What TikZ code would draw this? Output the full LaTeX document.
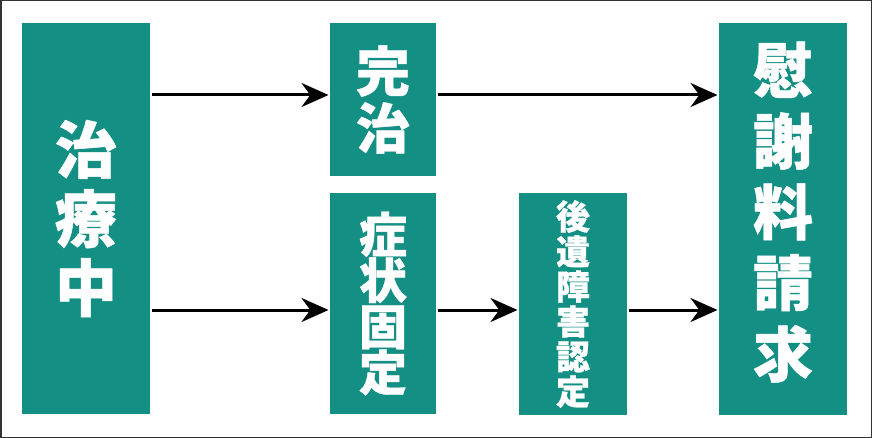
\documentclass[tikz,border=0pt]{standalone}
\usepackage{fontspec}
\newfontfamily\jpfont[BoldFeatures={FakeBold=0.8}]{Noto Sans CJK JP}
\usepackage{tikz}
\usetikzlibrary{arrows.meta, positioning, calc}
\setlength{\lineskiplimit}{-50pt}
\definecolor{stageteal}{RGB}{20,143,131}
\tikzset{>={Stealth[length=27pt,width=24pt]}}
\tikzset{stage/.style={fill=stageteal, text=white, align=center, inner sep=0pt}}

\begin{document}
\begin{tikzpicture}[>={Stealth[length=27pt,width=24pt]}, x=1pt, y=-1pt, line width=3pt]

			\useasboundingbox (0,0) rectangle (872,438);
			\draw[line width=1.5pt, black!80] (0.75,0.75) rectangle (871.25,437.25);

			\node[stage, minimum width=128pt, minimum height=391pt, font=\jpfont\bfseries\fontsize{62}{69}\selectfont] (chiryo) at (86,218.5) {治\\療\\中};
			\node[stage, minimum width=106pt, minimum height=153pt, font=\jpfont\bfseries\fontsize{54}{57}\selectfont] (kanchi) at (383,99.5) {完\\治};
			\node[stage, minimum width=106pt, minimum height=221pt, font=\jpfont\bfseries\fontsize{48}{46}\selectfont] (shojo) at (383,303.5) {症\\状\\固\\定};
			\node[stage, minimum width=108pt, minimum height=222pt, font=\jpfont\bfseries\fontsize{34}{35}\selectfont] (kouisho) at (573,304) {後\\遺\\障\\害\\認\\定};
			\node[stage, minimum width=128pt, minimum height=392pt, font=\jpfont\bfseries\fontsize{60}{65}\selectfont] (isharyo) at (783,219) {\raisebox{14pt}{\begin{tabular}{@{}c@{}}慰\\謝\\料\\請\\求\end{tabular}}};

			\draw [->] ($(chiryo.east |- kanchi.west)+(0,-4.5)$)--($(kanchi.west)+(0,-4.5)$);
			\draw [->] ($(kanchi.east)+(0,-4.5)$)--($(isharyo.west |- kanchi.west)+(0,-4.5)$);
			\draw [->] ($(chiryo.east |- shojo.west)+(0,6.5)$)--($(shojo.west)+(0,6.5)$);
			\draw [->] ($(shojo.east)+(0,6.5)$)--($(kouisho.west)+(0,6)$);
			\draw [->] ($(kouisho.east)+(0,6)$)--($(isharyo.west |- kouisho.west)+(0,6)$);

\end{tikzpicture}
\end{document}
